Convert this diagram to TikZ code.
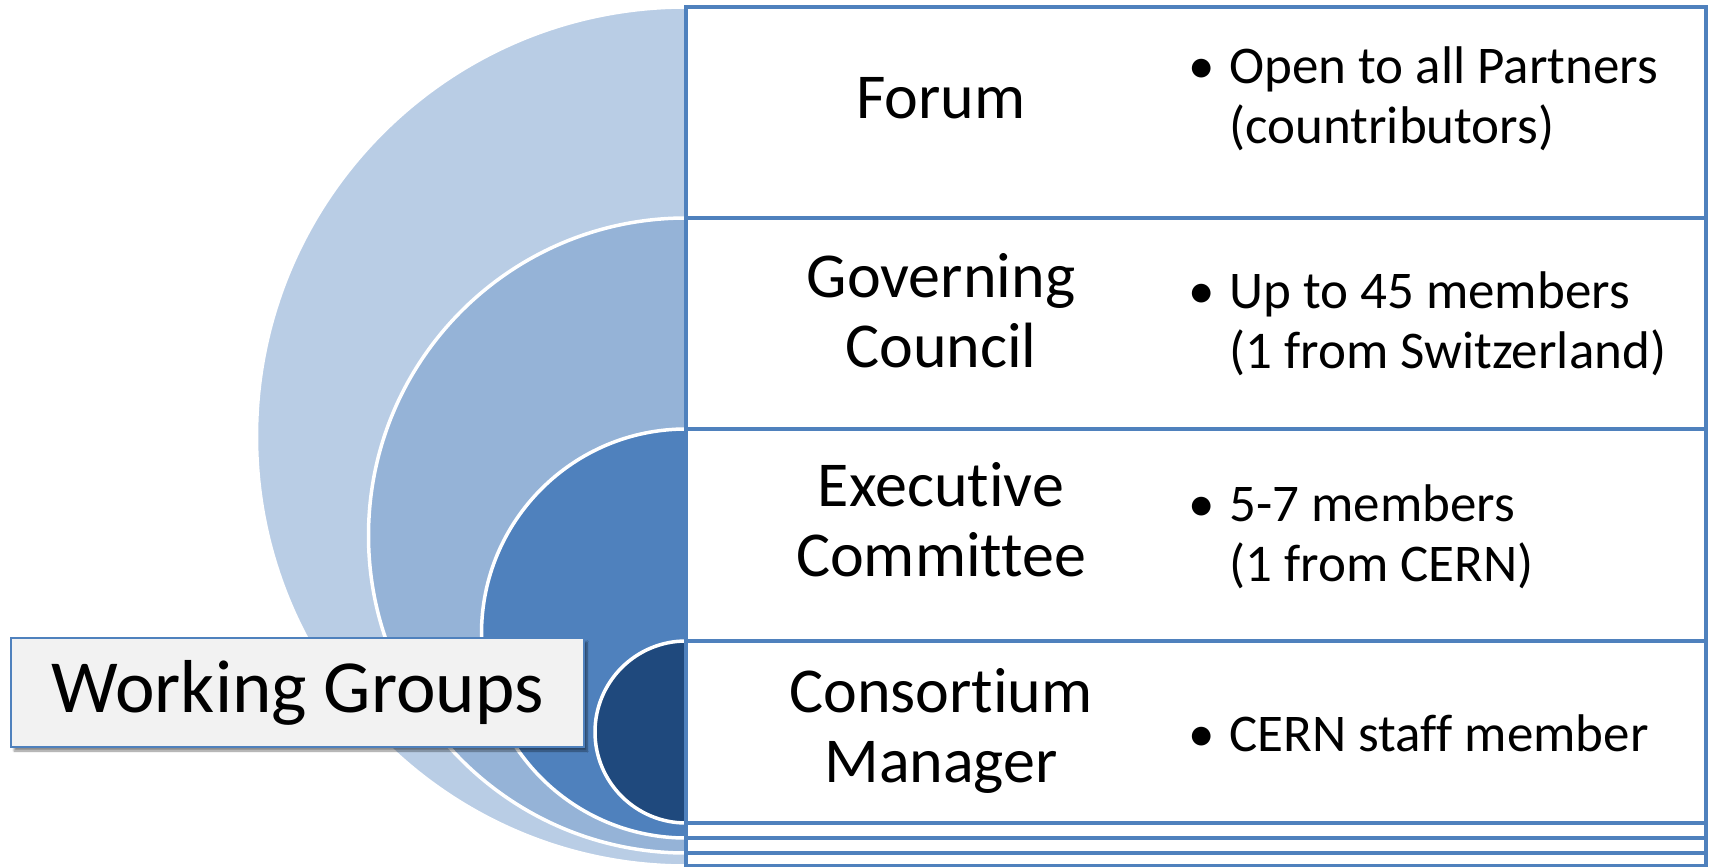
\documentclass[tikz,border=0pt]{standalone}
\usepackage{fontspec}
\setmainfont[Ligatures={NoCommon,NoContextual}]{Carlito}
\usetikzlibrary{shadows.blur}
\definecolor{cA}{HTML}{B9CDE5}
\definecolor{cB}{HTML}{95B3D7}
\definecolor{cC}{HTML}{4F81BD}
\definecolor{cD}{HTML}{1F497D}
\definecolor{lineblue}{HTML}{4F81BD}
\definecolor{boxgray}{HTML}{F2F2F2}
\tikzset{
  disc/.style={draw=white, line width=3.5pt},
  rowbox/.style={draw=lineblue, line width=4.6pt, fill=white},
  title/.style={font=\fontsize{64}{70}\selectfont, align=center, text=black},
  bullets/.style={font=\fontsize{53}{60}\selectfont, align=left, anchor=west, text=black},
  wgbox/.style={draw=lineblue, line width=1.5pt, fill=boxgray, minimum width=573pt, minimum height=109pt,
    font=\fontsize{75}{90}\selectfont, blur shadow={shadow xshift=3pt, shadow yshift=-4pt, shadow blur steps=6, shadow opacity=45}}
}
\newcommand{\bul}{\llap{•\hspace{15pt}}}
\begin{document}
\begin{tikzpicture}[x=1pt,y=1pt]
\useasboundingbox (0,0) rectangle (1709,-867);
% nested half discs
\path[disc, fill=cA] (686,-7) arc[start angle=90, end angle=270, radius=429.5] -- cycle;
\path[disc, fill=cB] (686,-218) arc[start angle=90, end angle=270, radius=317.5] -- cycle;
\path[disc, fill=cC] (686,-429) arc[start angle=90, end angle=270, radius=204.5] -- cycle;
\path[disc, fill=cD] (686,-641) arc[start angle=90, end angle=270, radius=91] -- cycle;
% stacked row rectangles
\path[rowbox] (686,-7) rectangle (1706,-866);
\path[rowbox] (686,-218) rectangle (1706,-853);
\path[rowbox] (686,-429) rectangle (1706,-838);
\path[rowbox] (686,-641) rectangle (1706,-823);
% left column titles
\node[title] (forum) at (941,-98) {Forum};
\node[title] (council) at (941,-311) {Governing\\Council};
\node[title] (exec) at (941,-520) {Executive\\Committee};
\node[title] (manager) at (941,-731) {Consortium\\Manager};
% bullets
\node[bullets] (b1) at (1226,-99) {\bul Open to all Partners\\(countributors)};
\node[bullets] (b2) at (1226,-324) {\bul Up to 45 members\\(1 from Switzerland)};
\node[bullets] (b3) at (1226,-537) {\bul 5-7 members\\(1 from CERN)};
\node[bullets] (b4) at (1226,-733) {\bul CERN staff member};
% working groups
\node[wgbox] (wg) at (297.5,-692.5) {Working Groups};
\end{tikzpicture}
\end{document}
